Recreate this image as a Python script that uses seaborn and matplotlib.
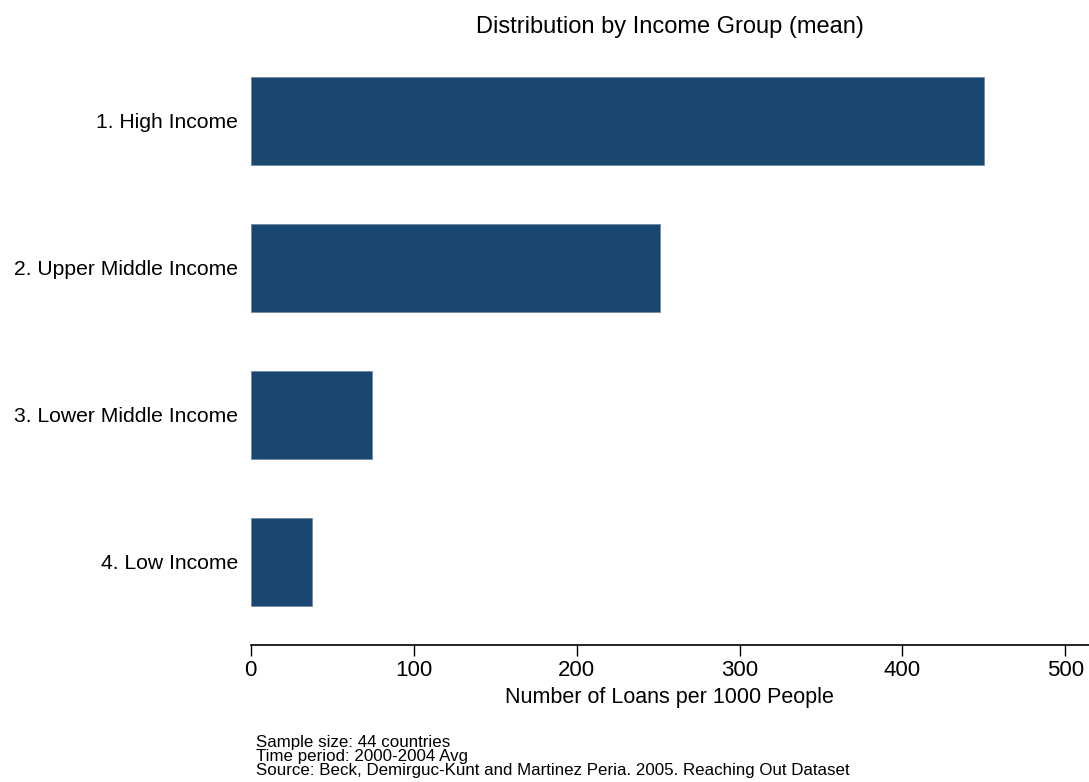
import matplotlib
matplotlib.use("Agg")
import matplotlib.pyplot as plt
import seaborn as sns
import pandas as pd

categories = ["1. High Income", "2. Upper Middle Income", "3. Lower Middle Income", "4. Low Income"]
values = [450.0, 251.4, 74.6, 37.4]
xticks = [0, 100, 200, 300, 400, 500]
notes = ["Sample size: 44 countries", "Time period: 2000-2004 Avg",
         "Source: Beck, Demirguc-Kunt and Martinez Peria. 2005. Reaching Out Dataset"]

sns.set_style("white")
plt.rcParams['font.family'] = ['Liberation Sans', 'DejaVu Sans']
plt.rcParams['text.color'] = 'black'
plt.rcParams['axes.labelcolor'] = 'black'
plt.rcParams['xtick.color'] = 'black'
plt.rcParams['ytick.color'] = 'black'

df = pd.DataFrame({"group": categories, "value": values})

fig = plt.figure(figsize=(10.89, 7.82), dpi=100)
ax = fig.add_axes([250.8 / 1089, 1 - 645 / 782, 1 - 250.8 / 1089, (645 - 46) / 782])

sns.barplot(data=df, x="value", y="group", orient="h", color="#1a476f",
            saturation=1, width=0.6, edgecolor="#6f8aa5", linewidth=0.6, ax=ax)

ax.set_xlim(0, 514.5)
ax.set_ylim(3.565, -0.51)
ax.set_xticks(xticks)
ax.set_xticklabels([str(t) for t in xticks], fontsize=16)
ax.tick_params(axis="x", bottom=True, direction="out", length=8, width=1, color="black", pad=3)
ax.tick_params(axis="y", left=False, length=0, labelsize=15.2, pad=9)
for s in ["top", "right", "left"]:
    ax.spines[s].set_visible(False)
ax.spines["bottom"].set_color("black")
ax.spines["bottom"].set_linewidth(1.2)
ax.set_ylabel("")
ax.set_xlabel("Number of Loans per 1000 People", fontsize=15.5, labelpad=4)
ax.grid(False)

fig.text(670 / 1089, 1 - 27 / 782, "Distribution by Income Group (mean)",
         ha="center", va="center", fontsize=17)
for i, line in enumerate(notes):
    fig.text(256 / 1089, 1 - (743 + 13.5 * i) / 782, line, ha="left", va="center", fontsize=12.2)

fig.savefig("out.png", dpi=100)
